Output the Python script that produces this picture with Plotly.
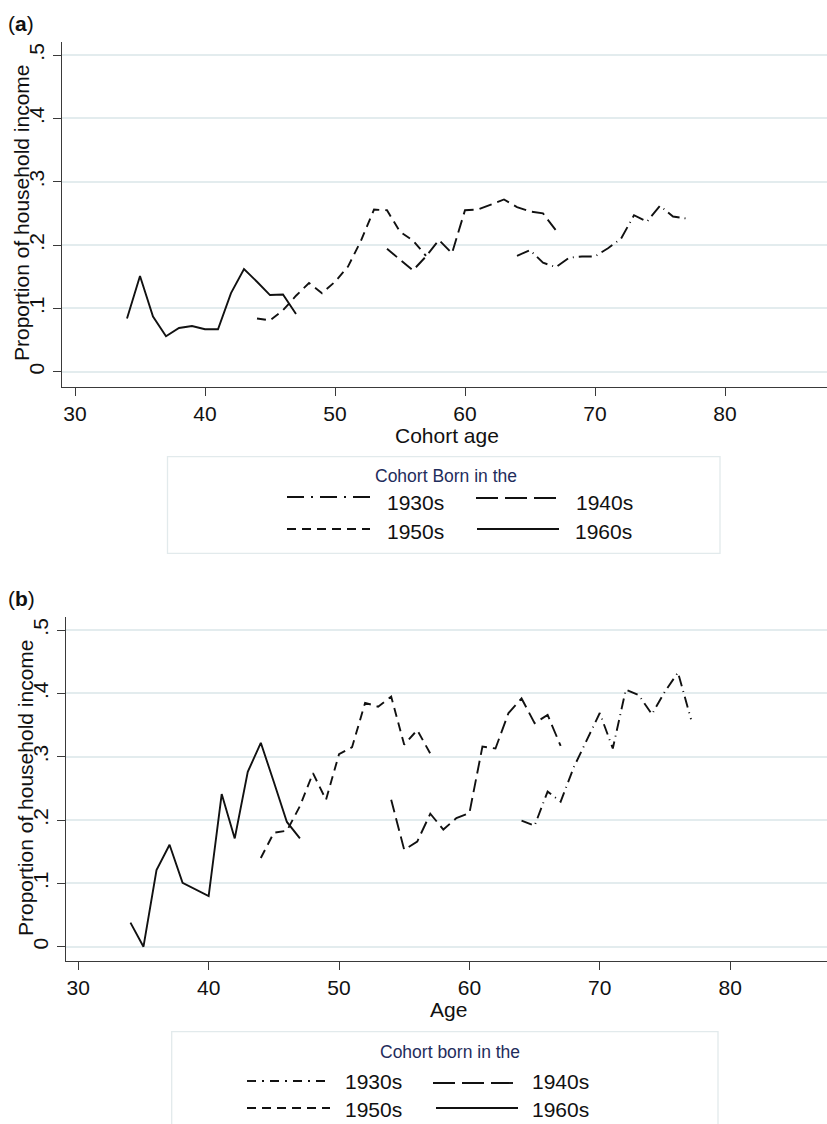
import plotly.graph_objects as go

# ---------------- data ----------------
ages_1930 = [64, 65, 66, 67, 68, 69, 70, 71, 72, 73, 74, 75, 76, 77]
ages_1940 = [54, 55, 56, 57, 58, 59, 60, 61, 62, 63, 64, 65, 66, 67]
ages_1950 = [44, 45, 46, 47, 48, 49, 50, 51, 52, 53, 54, 55, 56, 57]
ages_1960 = [34, 35, 36, 37, 38, 39, 40, 41, 42, 43, 44, 45, 46, 47]

# panel (a)
a_1930 = [0.183, 0.192, 0.172, 0.165, 0.180, 0.182, 0.182, 0.195, 0.210, 0.247, 0.237, 0.262, 0.245, 0.242]
a_1940 = [0.194, 0.177, 0.160, 0.182, 0.208, 0.187, 0.255, 0.256, 0.264, 0.272, 0.260, 0.253, 0.250, 0.223]
a_1950 = [0.084, 0.081, 0.097, 0.120, 0.140, 0.124, 0.142, 0.166, 0.207, 0.256, 0.255, 0.221, 0.207, 0.183]
a_1960 = [0.084, 0.151, 0.087, 0.056, 0.069, 0.072, 0.067, 0.067, 0.124, 0.162, 0.142, 0.121, 0.122, 0.091]

# panel (b)
b_1930 = [0.199, 0.191, 0.245, 0.229, 0.283, 0.325, 0.369, 0.313, 0.406, 0.397, 0.367, 0.403, 0.433, 0.359]
b_1940 = [0.232, 0.153, 0.166, 0.210, 0.185, 0.203, 0.211, 0.316, 0.313, 0.369, 0.392, 0.353, 0.366, 0.317]
b_1950 = [0.140, 0.180, 0.183, 0.222, 0.274, 0.232, 0.304, 0.315, 0.385, 0.379, 0.395, 0.319, 0.342, 0.305]
b_1960 = [0.038, 0.000, 0.121, 0.161, 0.101, 0.090, 0.080, 0.241, 0.171, 0.276, 0.322, 0.260, 0.197, 0.171]

cohort_labels = ["1930s", "1940s", "1950s", "1960s"]
x_ticks = [30, 40, 50, 60, 70, 80]
y_ticks = [0, 0.1, 0.2, 0.3, 0.4, 0.5]
y_ticktext = ["0", ".1", ".2", ".3", ".4", ".5"]

# ---------------- style ----------------
W, H = 827, 1124
FONT = "Liberation Sans, Arial, Helvetica, sans-serif"
INK = "#111111"
GRID = "#E3ECEE"
AXIS = "#3a3a3a"
TITLE_BLUE = "#1f2d5c"

data_dash_a = {"1930s": "13px,5px,1px,5px", "1940s": "13px,6px", "1950s": "9px,6px", "1960s": "solid"}
data_dash_b = {"1930s": "11px,5px,1px,5px", "1940s": "13px,6px", "1950s": "9px,6px", "1960s": "solid"}
leg_dash_a = {"1930s": "17px,7px,2px,7px", "1940s": "22px,7px", "1950s": "9px,6px", "1960s": "solid"}
leg_dash_b = {"1930s": "9px,6px,2px,6px", "1940s": "22px,7px", "1950s": "9px,6px", "1960s": "solid"}


def px_x(x):
    return x / W


def px_y(y):
    return 1 - y / H


fig = go.Figure()

series_a = [(ages_1930, a_1930, "1930s"), (ages_1940, a_1940, "1940s"),
            (ages_1950, a_1950, "1950s"), (ages_1960, a_1960, "1960s")]
series_b = [(ages_1930, b_1930, "1930s"), (ages_1940, b_1940, "1940s"),
            (ages_1950, b_1950, "1950s"), (ages_1960, b_1960, "1960s")]

for xs, ys, name in series_a:
    fig.add_trace(go.Scatter(x=xs, y=ys, mode="lines", name=name, showlegend=False,
                             line=dict(color=INK, width=1.9, dash=data_dash_a[name]),
                             xaxis="x", yaxis="y"))
for xs, ys, name in series_b:
    fig.add_trace(go.Scatter(x=xs, y=ys, mode="lines", name=name, showlegend=False,
                             line=dict(color=INK, width=1.9, dash=data_dash_b[name]),
                             xaxis="x2", yaxis="y2"))

axis_common = dict(showline=True, linecolor=AXIS, linewidth=1.4, ticks="outside",
                   ticklen=8, tickwidth=1.3, tickcolor=AXIS, zeroline=False,
                   tickfont=dict(family=FONT, size=21, color=INK), automargin=False)

fig.update_layout(
    width=W, height=H,
    margin=dict(l=0, r=0, t=0, b=0),
    paper_bgcolor="white", plot_bgcolor="white",
    font=dict(family=FONT, color=INK),
    xaxis=dict(domain=[61.7 / W, 1.0], range=[28.977, 87.846], tickvals=x_ticks,
               showgrid=False, anchor="y", **axis_common),
    yaxis=dict(domain=[px_y(386.7), px_y(42)], range=[-0.0237, 0.5206], tickvals=y_ticks,
               ticktext=y_ticktext, tickangle=-90, showgrid=True, gridcolor=GRID,
               gridwidth=1.6, anchor="x", **axis_common),
    xaxis2=dict(domain=[65.7 / W, 1.0], range=[29.034, 87.43], tickvals=x_ticks,
                showgrid=False, anchor="y2", **axis_common),
    yaxis2=dict(domain=[px_y(960.5), px_y(617)], range=[-0.0218, 0.5206], tickvals=y_ticks,
                ticktext=y_ticktext, tickangle=-90, showgrid=True, gridcolor=GRID,
                gridwidth=1.6, anchor="x2", **axis_common),
)

annotations = []
shapes = []


def txt(x, y, text, size, color=INK, xanchor="center", angle=0):
    annotations.append(dict(x=px_x(x), y=px_y(y), xref="paper", yref="paper", text=text,
                            showarrow=False, xanchor=xanchor, yanchor="middle",
                            textangle=angle, font=dict(family=FONT, size=size, color=color)))


# panel labels
txt(6, 23, "(<b>a</b>)", 21, xanchor="left")
txt(6, 598, "(<b>b</b>)", 21, xanchor="left")

# axis titles
txt(22, 213, "Proportion of household income", 21, angle=-90)
txt(25, 788, "Proportion of household income", 21, angle=-90)
txt(447, 435, "Cohort age", 21)
txt(448, 1009, "Age", 21)


def legend_block(box, title, title_xy, rows, dashes):
    x0, y0, x1, y1 = box
    shapes.append(dict(type="rect", xref="paper", yref="paper",
                       x0=px_x(x0), x1=px_x(x1), y0=px_y(y1), y1=px_y(y0),
                       line=dict(color="#E2EAEC", width=1.3), fillcolor="white", layer="below"))
    txt(title_xy[0], title_xy[1], title, 17.5, color=TITLE_BLUE)
    for (sx0, sx1, sy, lx, ly, name) in rows:
        shapes.append(dict(type="line", xref="paper", yref="paper",
                           x0=px_x(sx0), x1=px_x(sx1), y0=px_y(sy), y1=px_y(sy),
                           line=dict(color=INK, width=1.9, dash=dashes[name])))
        txt(lx, ly, name, 21, xanchor="left")


legend_block((167.5, 456.7, 720, 553.3), "Cohort Born in the", (446, 476),
             [(287, 370, 497, 385, 502, cohort_labels[0]),
              (476, 558, 498, 574, 502, cohort_labels[1]),
              (287, 370, 529, 385, 531, cohort_labels[2]),
              (477, 559, 529, 573, 531, cohort_labels[3])],
             leg_dash_a)

legend_block((171.7, 1031.7, 718, 1130), "Cohort born in the", (450, 1052),
             [(247, 330, 1081, 343, 1081.5, cohort_labels[0]),
              (433, 517, 1083, 530, 1081.5, cohort_labels[1]),
              (247, 330, 1108, 343, 1109, cohort_labels[2]),
              (436, 518, 1108, 530, 1109, cohort_labels[3])],
             leg_dash_b)

fig.update_layout(annotations=annotations, shapes=shapes)

fig.write_html(
    "out.html",
    config={"displayModeBar": False},
    post_script="document.body.style.margin='0px';document.body.style.overflow='hidden';",
)
